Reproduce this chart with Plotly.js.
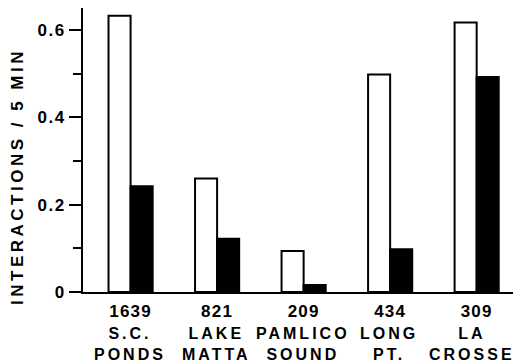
<!DOCTYPE html>
<html>
<head>
<meta charset="utf-8">
<script src="https://cdn.plot.ly/plotly-3.0.1.min.js"></script>
<style>
  html, body { margin: 0; padding: 0; background: #fff; }
  #chart { width: 514px; height: 364px; }
</style>
</head>
<body>
<div id="chart"></div>
<script>
// ---- data ----
const sites = ["S.C.<br>PONDS", "LAKE<br>MATTA", "PAMLICO<br>SOUND", "LONG<br>PT.", "LA<br>CROSSE"];
const counts = ["1639", "821", "209", "434", "309"];
const openBars = [0.632, 0.260, 0.094, 0.498, 0.617];
const filledBars = [0.242, 0.122, 0.016, 0.098, 0.492];
const yTickVals = [0, 0.2, 0.4, 0.6];
const yTickText = ["0", "0.2", "0.4", "0.6"];
const yTitle = "INTERACTIONS / 5 MIN";

const idx = sites.map((_, i) => i);
const FONT = "Liberation Sans, Arial, sans-serif";
const sp = (t, ls) => `<span style="letter-spacing:${ls}px">${t}</span>`;

const traces = [
  {
    type: "bar", x: idx, y: openBars, name: "open",
    marker: { color: "#ffffff", line: { color: "#000000", width: 2 } },
    hoverinfo: "skip"
  },
  {
    type: "bar", x: idx, y: filledBars, name: "filled",
    marker: { color: "#000000", line: { color: "#000000", width: 2 } },
    hoverinfo: "skip"
  }
];

const annotations = sites.map((s, i) => ({
  xref: "x", yref: "paper", x: i, y: 0, yanchor: "top", xanchor: "center",
  yshift: -31, xshift: (i === sites.length - 1 ? -5 : -1), showarrow: false, align: "center",
  text: s.split("<br>").map(p => sp(p, 3)).join("<br>"),
  font: { family: FONT, size: 16, color: "#000", weight: "bold" }
}));
annotations.push({
  xref: "paper", yref: "paper", x: 0, y: 0.405, xshift: -65,
  xanchor: "center", yanchor: "middle", textangle: -90, showarrow: false,
  text: sp(yTitle, 3.5),
  font: { family: FONT, size: 17, color: "#000", weight: "bold" }
});

const layout = {
  width: 514, height: 364,
  margin: { l: 83, r: 1, t: 8, b: 72 },
  paper_bgcolor: "#fff", plot_bgcolor: "#fff",
  showlegend: false,
  barmode: "group", bargap: 0.49, bargroupgap: 0,
  font: { family: FONT, size: 17, color: "#000", weight: "bold" },
  xaxis: {
    range: [-0.55, 4.42],
    tickmode: "array", tickvals: idx, ticktext: counts.map(c => sp(c, 1.2)),
    showline: true, linecolor: "#000", linewidth: 2,
    ticks: "", showgrid: false, zeroline: false, ticklabelstandoff: 3,
    tickfont: { family: FONT, size: 17, color: "#000", weight: "bold" }
  },
  yaxis: {
    range: [0, 0.65],
    tickmode: "array", tickvals: yTickVals, ticktext: yTickText.map(t => sp(t, 1.5)),
    ticks: "outside", ticklen: 12, tickwidth: 2, tickcolor: "#000",
    minor: { dtick: 0.1, tick0: 0, ticks: "outside", ticklen: 8, tickwidth: 2, tickcolor: "#000" },
    showline: true, linecolor: "#000", linewidth: 2,
    showgrid: false, zeroline: false,
    tickfont: { family: FONT, size: 17, color: "#000", weight: "bold" }
  },
  annotations: annotations
};

Plotly.newPlot("chart", traces, layout, { staticPlot: true, displayModeBar: false });
</script>
</body>
</html>
